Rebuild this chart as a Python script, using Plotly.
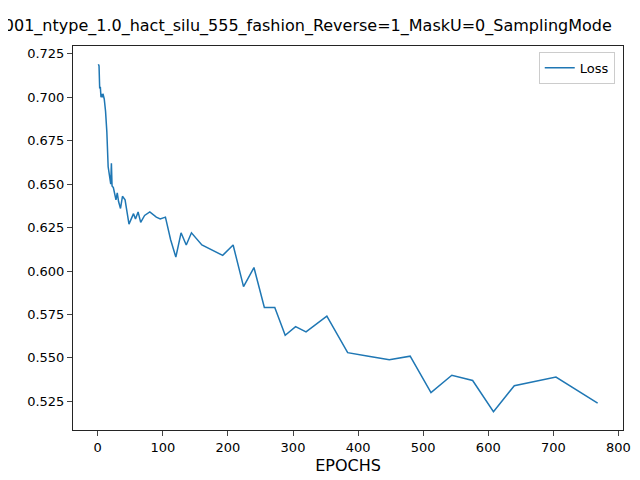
import plotly.graph_objects as go

epochs = [1, 2, 3, 4, 5, 6, 7, 8, 10, 12, 14, 16, 18, 20, 21, 22, 24, 26, 28, 30,
          32, 35, 38, 42, 48, 55, 58, 62, 66, 72, 80, 90, 96, 104, 112, 120, 128,
          136, 144, 160, 176, 192, 208, 224, 240, 256, 272, 288, 304, 320, 352,
          384, 416, 448, 480, 512, 544, 576, 608, 640, 704, 768]
loss = [0.719, 0.718, 0.705, 0.706, 0.700, 0.702, 0.700, 0.702, 0.699, 0.692,
        0.680, 0.660, 0.655, 0.650, 0.662, 0.649, 0.648, 0.645, 0.641, 0.645,
        0.640, 0.636, 0.643, 0.641, 0.627, 0.633, 0.630, 0.634, 0.628, 0.632,
        0.634, 0.631, 0.630, 0.631, 0.618, 0.608, 0.622, 0.615, 0.622, 0.615,
        0.612, 0.609, 0.615, 0.591, 0.602, 0.579, 0.579, 0.563, 0.568, 0.565,
        0.574, 0.553, 0.551, 0.549, 0.551, 0.530, 0.540, 0.537, 0.519, 0.534,
        0.539, 0.524]

title = "lr_x_0.0001_ntype_1.0_hact_silu_555_fashion_Reverse=1_MaskU=0_SamplingMode"

fig = go.Figure(go.Scatter(x=epochs, y=loss, mode="lines", name="Loss",
                           line=dict(color="#1f77b4", width=1.5)))
fig.update_layout(
    width=640, height=480, template="simple_white",
    font=dict(family="DejaVu Sans", size=13, color="black"),
    title=dict(text=title, x=0.42, xanchor="center", y=0.975, font=dict(size=16)),
    margin=dict(l=65, r=25, t=38, b=58, autoexpand=False),
    showlegend=True,
    legend=dict(x=0.985, y=0.985, xanchor="right", yanchor="top",
                bordercolor="#cccccc", borderwidth=1),
)
fig.update_xaxes(title_text="EPOCHS", title_standoff=6, range=[-38, 807],
                 tickvals=list(range(0, 900, 100)), automargin=False,
                 mirror=True, ticks="outside", showline=True)
fig.update_yaxes(range=[0.5085, 0.7295], tickvals=[0.525 + 0.025 * i for i in range(9)],
                 tickformat=".3f", automargin=False,
                 mirror=True, ticks="outside", showline=True)
fig.write_html("out.html")
